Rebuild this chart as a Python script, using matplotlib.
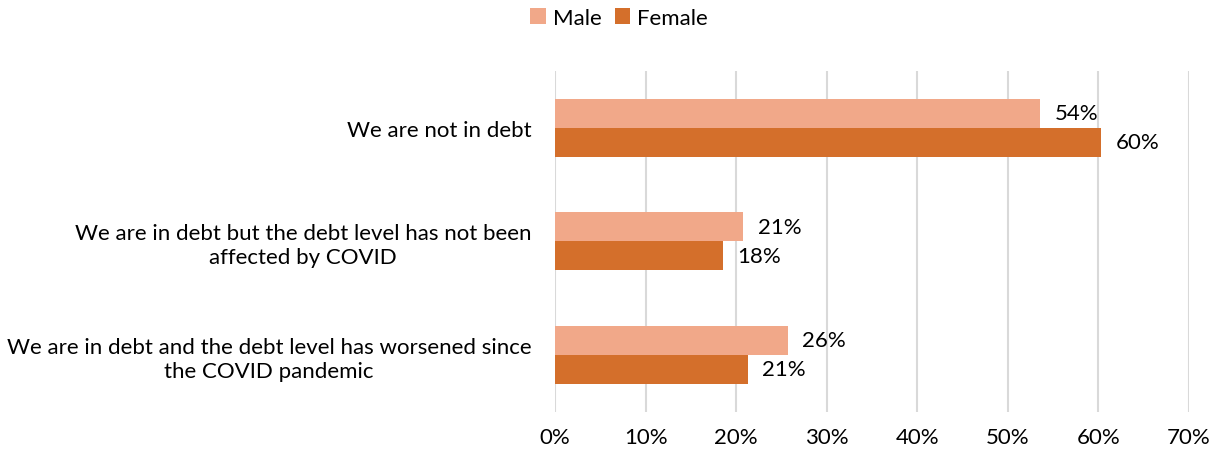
import matplotlib
matplotlib.use("Agg")
import matplotlib.pyplot as plt
import numpy as np
from matplotlib.ticker import FuncFormatter

categories = [
    "We are not in debt",
    "We are in debt but the debt level has not been\naffected by COVID",
    "We are in debt and the debt level has worsened since\nthe COVID pandemic",
]
male = [53.6, 20.8, 25.7]
female = [60.3, 18.5, 21.3]
series_names = ["Male", "Female"]
colors = ["#F1A889", "#D46F2B"]

plt.rcParams['font.family'] = ['Lato', 'DejaVu Sans']
FS = 16

fig = plt.figure(figsize=(12.17, 4.60), dpi=100)
ax = fig.add_axes([555/1217, 1 - 412.5/460, (1189 - 555)/1217, (412.5 - 72)/460])

n = len(categories)
y = np.arange(n)
h = 0.257
ax.barh(y - h/2, male, height=h, color=colors[0], label=series_names[0], zorder=3)
ax.barh(y + h/2, female, height=h, color=colors[1], label=series_names[1], zorder=3)

for yi, v in zip(y, male):
    ax.text(v + 1.6, yi - h/2, f"{round(v):.0f}%", va='center', ha='left', fontsize=FS, color='black')
for yi, v in zip(y, female):
    ax.text(v + 1.6, yi + h/2, f"{round(v):.0f}%", va='center', ha='left', fontsize=FS, color='black')

ax.set_xlim(0, 70)
ax.set_ylim(n - 0.5, -0.5)
ax.set_xticks(np.arange(0, 71, 10))
ax.xaxis.set_major_formatter(FuncFormatter(lambda v, p: f"{v:.0f}%"))
ax.set_yticks(y)
ax.set_yticklabels(categories, multialignment='center', linespacing=1.25)
ax.tick_params(axis='y', length=0, pad=17, labelsize=FS)
ax.tick_params(axis='x', length=0, pad=11.5, labelsize=FS)
ax.grid(axis='x', color='#D9D9D9', linewidth=1.5, zorder=0)
for s in ax.spines.values():
    s.set_visible(False)

fig.legend(loc='center', bbox_to_anchor=(619/1217, 1 - 19/460), ncol=2, frameon=False,
           fontsize=FS, handlelength=0.7, handleheight=0.7, handletextpad=0.3, columnspacing=0.6)

fig.savefig("out.png", dpi=100, facecolor='white')
